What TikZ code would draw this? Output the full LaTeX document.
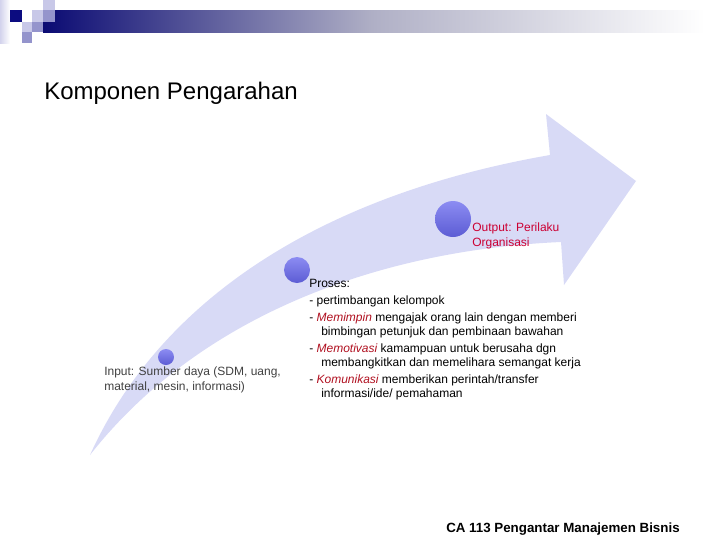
\documentclass[tikz,border=0pt]{standalone}
\usepackage{fontspec}
\setmainfont{Liberation Sans}
\usetikzlibrary{calc,positioning}
\definecolor{band}{RGB}{216,218,246}
\definecolor{navy}{RGB}{12,12,128}
\definecolor{lav}{RGB}{200,200,232}
\definecolor{lavd}{RGB}{148,148,204}
\definecolor{crim}{RGB}{204,0,51}
\definecolor{emred}{RGB}{176,16,32}
\definecolor{ink}{RGB}{64,64,64}
\tikzset{
    dot/.style={
    circle,inner sep=0pt,top color={rgb,255:red,140;green,140;blue,242},bottom color={rgb,255:red,92;green,92;blue,212}
    },
    txt/.style={
    inner sep=0pt,align=left,anchor=base west,font=\fontsize{9}{10.5}\selectfont
    },
}
\newcommand{\kw}[1]{\textcolor{emred}{\itshape #1}}

\begin{document}
\begin{tikzpicture}[x=0.75pt,y=-0.75pt]
   \useasboundingbox (0,0) rectangle (720,540);
   % header bar and tiles
   \fill[left color=navy!90!black,right color=white,middle color={rgb,255:red,176;green,176;blue,198}] (43,10) rectangle (705,32);
   \fill[left color=lav!80,right color=white] (0,0) rectangle (10,43);
   \fill[navy] (10,10) rectangle (22,22);
   \fill[lav] (32,10) rectangle (43,22);
   \fill[lav] (43,0) rectangle (55,10);
   \fill[lavd] (43,10) rectangle (55,22);
   \fill[lav] (22,22) rectangle (32,32);
   \fill[lavd] (32,22) rectangle (43,32);
   \fill[lavd] (22,32) rectangle (32,43);

   % curved arrow
   \fill[band] (90,455) .. controls (160,300) and (320,195) .. (550,155)
      -- (546,114) -- (636,181) -- (564,285) -- (561,242)
      .. controls (380,250) and (200,315) .. (90,455) -- cycle;

   \node[dot,minimum size=12pt] (d0) at (166,357) {};
   \node[dot,minimum size=19.5pt] (d1) at (297,270) {};
   \node[dot,minimum size=27pt] (d2) at (453,219) {};

   \node[txt,font=\fontsize{18}{21}\selectfont] (title) at (44,99) {Komponen Pengarahan};
   \node[txt,text=ink] (inp) at (104,390) {Input: Sumber daya (SDM, uang,\\[0.75pt]material, mesin, informasi)};
   \node[txt,text=crim] (outp) at (472,246) {Output: Perilaku\\[0.75pt]Organisasi};
   \node[txt] (proc) at (309,397) {Proses:\\[2.25pt]
      - pertimbangan kelompok\\[2.25pt]
      - \kw{Memimpin} mengajak orang lain dengan memberi\\
      \hspace*{9pt}bimbingan petunjuk dan pembinaan bawahan\\[2.25pt]
      - \kw{Memotivasi} kamampuan untuk berusaha dgn\\
      \hspace*{9pt}membangkitkan dan memelihara semangat kerja\\[2.25pt]
      - \kw{Komunikasi} memberikan perintah/transfer\\
      \hspace*{9pt}informasi/ide/ pemahaman};
   \node[txt,font=\bfseries\fontsize{10}{12}\selectfont] (foot) at (446,532) {CA 113 Pengantar Manajemen Bisnis};
\end{tikzpicture}
\end{document}
